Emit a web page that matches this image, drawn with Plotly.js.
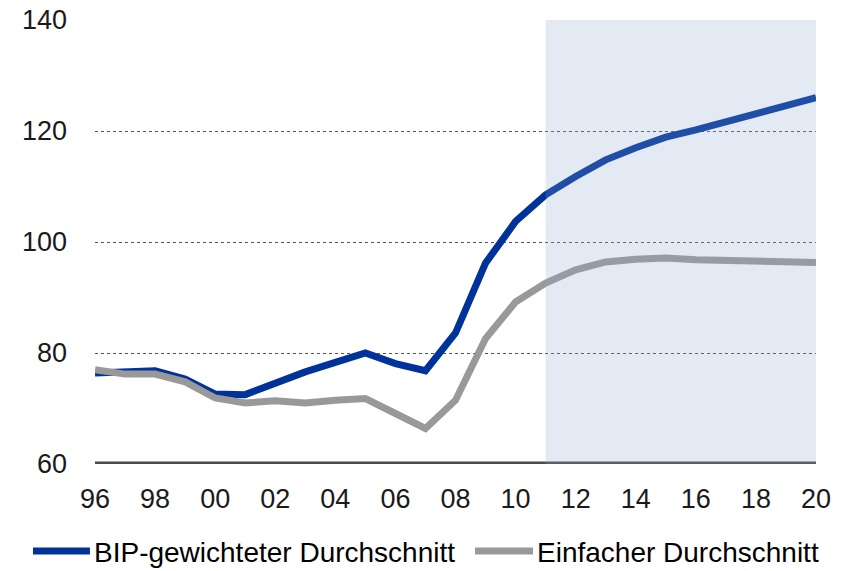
<!DOCTYPE html>
<html>
<head>
<meta charset="utf-8">
<script src="https://cdn.plot.ly/plotly-3.0.1.min.js"></script>
<style>
  html, body { margin: 0; padding: 0; background: #fff; }
  #chart { width: 848px; height: 571px; }
</style>
</head>
<body>
<div id="chart"></div>
<script>
const years = [1996,1997,1998,1999,2000,2001,2002,2003,2004,2005,2006,2007,2008,2009,2010,2011,2012,2013,2014,2015,2016,2017,2018,2019,2020];
const bipWeighted = [76.4,76.6,76.8,75.3,72.6,72.5,74.6,76.6,78.3,80.0,78.1,76.8,83.6,96.2,103.7,108.5,111.8,114.8,117.0,118.9,120.2,121.7,123.1,124.5,126.0];
const simpleAvg = [77.0,76.2,76.2,74.8,71.9,71.0,71.4,71.0,71.5,71.8,69.1,66.4,71.5,82.6,89.2,92.6,95.0,96.4,96.9,97.1,96.8,96.6,96.5,96.4,96.3];
const tickYears = [1996,1998,2000,2002,2004,2006,2008,2010,2012,2014,2016,2018,2020];
const tickLabels = ["96","98","00","02","04","06","08","10","12","14","16","18","20"];
const seriesNames = ["BIP-gewichteter Durchschnitt", "Einfacher Durchschnitt"];
const seriesColors = ["#003399", "#999999"];
const forecastStart = 2011;

const font = "Liberation Sans, Arial, sans-serif";

const traces = [
  {x: years, y: bipWeighted, name: seriesNames[0], type: "scatter", mode: "lines",
   line: {color: seriesColors[0], width: 7}},
  {x: years, y: simpleAvg, name: seriesNames[1], type: "scatter", mode: "lines",
   line: {color: seriesColors[1], width: 7}}
];

// custom legend (long line symbols like the original)
const legendY = -0.196;
const legendItems = [
  {sym: [-0.086, -0.007], text: -0.003},
  {sym: [0.527, 0.6075], text: 0.611}
];
const legendShapes = legendItems.map((it, i) => ({
  type: "line", xref: "paper", yref: "paper", x0: it.sym[0], x1: it.sym[1], y0: legendY, y1: legendY,
  line: {color: seriesColors[i], width: 7}
}));
const legendAnns = legendItems.map((it, i) => ({
  xref: "paper", yref: "paper", x: it.text, y: legendY - 0.004, xanchor: "left", yanchor: "middle",
  text: seriesNames[i], showarrow: false, borderpad: 0,
  font: {family: font, size: 28, color: "#000"}
}));

const layout = {
  width: 848, height: 571,
  margin: {l: 95, r: 32, t: 20, b: 107, autoexpand: false},
  paper_bgcolor: "#fff", plot_bgcolor: "#fff",
  font: {family: font, size: 27, color: "#1a1a1a"},
  showlegend: false,
  xaxis: {range: [years[0], years[years.length-1]], tickvals: tickYears, ticktext: tickLabels,
          showgrid: false, zeroline: false, showline: false, ticks: "", ticklabelstandoff: 16,
          tickfont: {family: font, size: 27, color: "#1a1a1a"}, fixedrange: true, automargin: false},
  yaxis: {range: [60, 140], tickvals: [60,80,100,120,140], showgrid: true, gridcolor: "#555",
          griddash: "dot", gridwidth: 1, zeroline: false, showline: false, ticks: "",
          ticklabelstandoff: 27, tickfont: {family: font, size: 27, color: "#1a1a1a"}, fixedrange: true, automargin: false},
  shapes: [
    {type: "line", xref: "x", yref: "y", x0: years[0], x1: years[years.length-1], y0: 60, y1: 60,
     line: {color: "#4d4a4a", width: 5}, layer: "above"},
    {type: "rect", xref: "x", yref: "y", x0: forecastStart, x1: years[years.length-1], y0: 60, y1: 140,
     fillcolor: "rgb(136,166,208)", opacity: 0.235, line: {width: 0}, layer: "above"}
  ].concat(legendShapes),
  annotations: legendAnns
};

Plotly.newPlot("chart", traces, layout, {displayModeBar: false, staticPlot: true});
</script>
</body>
</html>
